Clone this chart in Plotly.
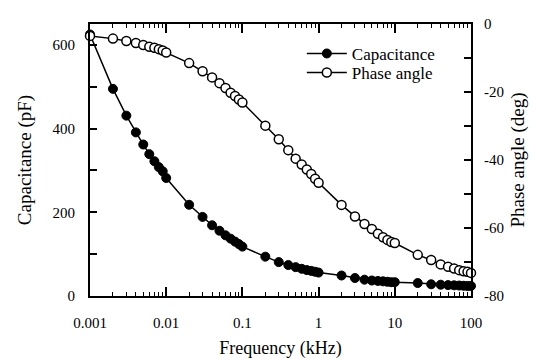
import plotly.graph_objects as go

# Measurement frequencies (kHz): 1..9 per decade, 0.001 to 100
freq_khz = [0.001, 0.002, 0.003, 0.004, 0.005, 0.006, 0.007, 0.008, 0.009,
            0.01, 0.02, 0.03, 0.04, 0.05, 0.06, 0.07, 0.08, 0.09,
            0.1, 0.2, 0.3, 0.4, 0.5, 0.6, 0.7, 0.8, 0.9,
            1, 2, 3, 4, 5, 6, 7, 8, 9,
            10, 20, 30, 40, 50, 60, 70, 80, 90, 100]

capacitance_pf = [625, 495, 431, 391, 362, 339, 322, 308, 298,
                  282, 218, 189, 169, 156, 145, 137, 130, 124,
                  118, 94, 81, 74, 69, 65, 62, 60, 58,
                  56, 49, 43, 39, 37, 36, 35, 34, 33,
                  33, 31, 28, 27, 26, 25.5, 25, 24.5, 24, 24]

phase_deg = [-3.5, -4.3, -5.0, -5.6, -6.2, -6.7, -7.0, -7.4, -7.8,
             -8.4, -11.5, -13.9, -15.7, -17.4, -18.8, -20.2, -21.2, -22.2,
             -23.1, -29.9, -33.9, -37.1, -39.6, -41.3, -42.8, -44.1, -45.5,
             -46.7, -53.2, -56.6, -58.8, -60.3, -61.7, -62.7, -63.5, -64.1,
             -64.4, -67.9, -69.4, -70.7, -71.4, -71.9, -72.4, -72.7, -72.9, -73.2]

x_tick_vals = [0.001, 0.01, 0.1, 1, 10, 100]
x_tick_text = ["0.001", "0.01", "0.1", "1", "10", "100"]
cap_ticks = [0, 200, 400, 600]
phase_ticks = [-80, -60, -40, -20, 0]
phase_tick_text = ["-80", "-60", "-40", "-20", "0"]

x_minor = [m * d for d in [0.001, 0.01, 0.1, 1, 10] for m in range(2, 10)]

FONT = "Liberation Serif"
TICK_FONT = dict(family=FONT, size=15, color="black")

fig = go.Figure()
fig.add_trace(go.Scatter(
    x=freq_khz, y=capacitance_pf, name="Capacitance", legend="legend",
    mode="lines+markers",
    line=dict(color="black", width=1.5),
    marker=dict(symbol="circle", size=9, color="black",
                line=dict(color="black", width=1)),
    cliponaxis=False,
))
fig.add_trace(go.Scatter(
    x=freq_khz, y=phase_deg, name="Phase angle", yaxis="y2", legend="legend2",
    mode="lines+markers",
    line=dict(color="black", width=1.5),
    marker=dict(symbol="circle", size=9, color="white",
                line=dict(color="black", width=1.5)),
    cliponaxis=False,
))

# top frame axis carrying the mirrored decade and minor ticks
fig.add_trace(go.Scatter(x=[0.001, 100], y=[None, None], xaxis="x2",
                         showlegend=False, hoverinfo="skip"))

tick_common = dict(ticks="inside", tickwidth=1.5, tickcolor="black",
                   showline=True, linecolor="black", linewidth=2,
                   showgrid=False, zeroline=False, automargin=False)

legend_common = dict(xanchor="left", yanchor="middle",
                     bgcolor="rgba(0,0,0,0)", borderwidth=0,
                     font=dict(family=FONT, size=17, color="black"),
                     itemwidth=40)

fig.update_layout(
    width=540, height=359,
    margin=dict(l=90, r=69, t=24, b=63),
    paper_bgcolor="white", plot_bgcolor="white",
    font=dict(family=FONT, size=15, color="black"),
    showlegend=True,
    legend=dict(x=0.556, y=0.89, **legend_common),
    legend2=dict(x=0.556, y=0.82, **legend_common),
    xaxis=dict(
        type="log", range=[-3, 2],
        tickvals=x_tick_vals, ticktext=x_tick_text, ticklen=9,
        minor=dict(tickvals=x_minor, ticks="inside", ticklen=4,
                   tickwidth=1.2, tickcolor="black"),
        ticklabelstandoff=12,
        title=dict(text="Frequency (kHz)",
                   font=dict(family=FONT, size=18, color="black"), standoff=12),
        tickfont=TICK_FONT,
        **tick_common,
    ),
    xaxis2=dict(
        type="log", range=[-3, 2], overlaying="x", side="top",
        tickvals=x_tick_vals, ticklen=9, showticklabels=False,
        minor=dict(tickvals=x_minor, ticks="inside", ticklen=4,
                   tickwidth=1.2, tickcolor="black"),
        **tick_common,
    ),
    yaxis=dict(
        range=[0, 650], tickvals=cap_ticks, ticklen=7,
        minor=dict(dtick=100, ticks="inside", ticklen=7, tickwidth=1.5,
                   tickcolor="black"),
        ticklabelstandoff=10,
        title=dict(text="Capacitance (pF)",
                   font=dict(family=FONT, size=19, color="black"), standoff=16),
        tickfont=TICK_FONT,
        **tick_common,
    ),
    yaxis2=dict(
        range=[-80, 0], tickvals=phase_ticks, ticktext=phase_tick_text,
        overlaying="y", side="right", ticklen=7,
        minor=dict(dtick=10, ticks="inside", ticklen=7, tickwidth=1.5,
                   tickcolor="black"),
        ticklabelstandoff=8,
        title=dict(text="Phase angle (deg)",
                   font=dict(family=FONT, size=19, color="black"), standoff=8),
        tickfont=TICK_FONT,
        **tick_common,
    ),
)

fig.write_html("out.html")
